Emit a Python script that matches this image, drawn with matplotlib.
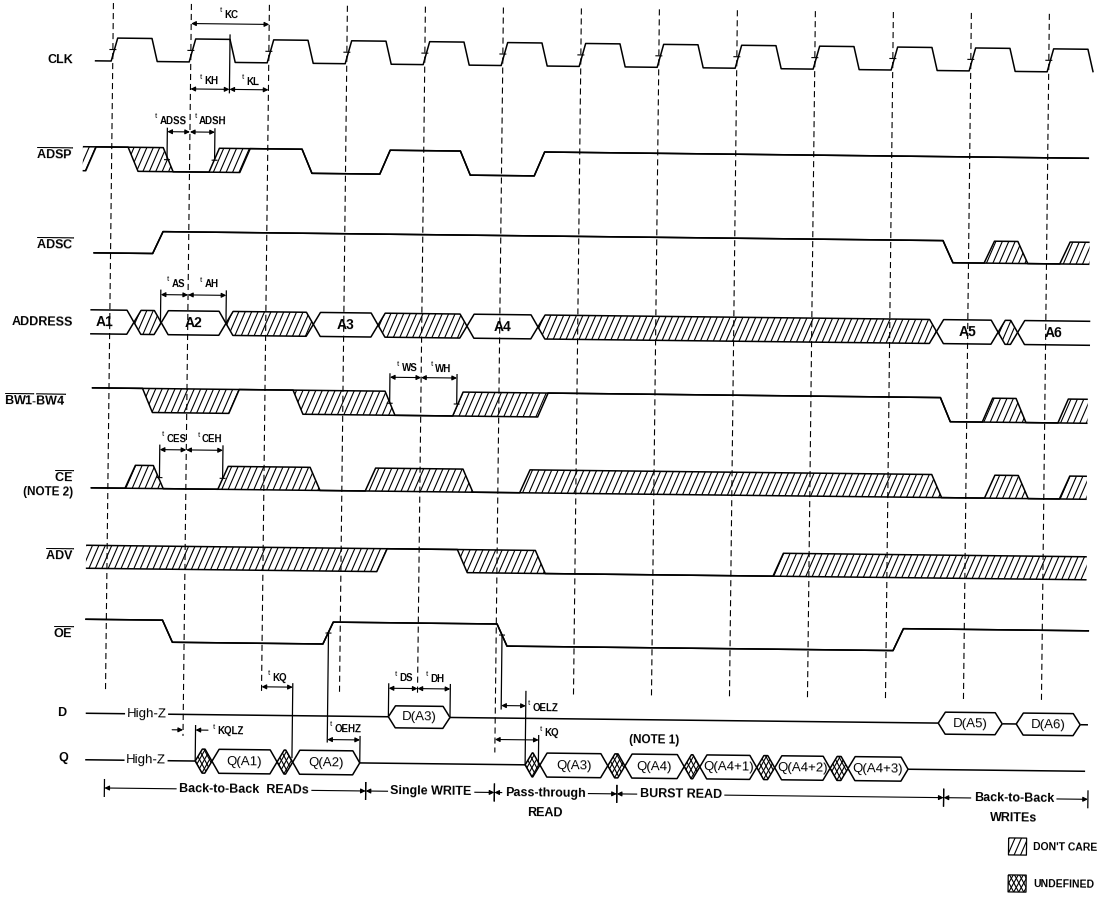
import numpy as np
import matplotlib.pyplot as plt
from matplotlib.patches import Polygon
from matplotlib.transforms import Affine2D

plt.rcParams['font.family'] = ['Liberation Sans', 'DejaVu Sans']
plt.rcParams['mathtext.fontset'] = 'custom'
plt.rcParams['mathtext.rm'] = 'Liberation Sans'
plt.rcParams['mathtext.bf'] = 'Liberation Sans:bold'

# ---------------- data (times in clock cycles, 0 = first rising edge) ----------------
clock_edges = list(range(13))
clk_start, clk_end = -0.23, 12.57

# single-line signals: (time, state)  H high, L low, X don't care, None = end
adsp = [(-0.37, 'X'), (-0.33, 'H'), (0.21, 'X'), (0.66, 'L'), (1.25, 'X'), (1.645, 'H'),
        (2.44, 'L'), (3.44, 'H'), (4.47, 'L'), (5.42, 'H'), (12.53, None)]
adsc = [(-0.22, 'L'), (0.54, 'H'), (10.67, 'L'), (11.2, 'X'), (11.63, 'L'), (12.17, 'X'),
        (12.55, None)]
bw = [(-0.22, 'H'), (0.43, 'X'), (1.54, 'H'), (2.36, 'X'), (3.54, 'L'), (4.41, 'X'), (5.5, 'H'),
      (10.66, 'L'), (11.2, 'X'), (11.63, 'L'), (12.17, 'X'), (12.55, None)]
ce = [(-0.22, 'L'), (0.22, 'X'), (0.58, 'L'), (1.41, 'X'), (2.59, 'L'), (3.3, 'X'), (4.55, 'L'),
      (5.28, 'X'), (10.56, 'L'), (11.24, 'X'), (11.67, 'L'), (12.2, 'X'), (12.55, None)]
adv = [(-0.27, 'X'), (3.46, 'H'), (4.49, 'X'), (5.49, 'L'), (8.54, 'X'), (12.56, None)]
oe = [(-0.27, 'H'), (0.72, 'L'), (2.78, 'H'), (5.01, 'L'), (10.09, 'H'), (12.6, None)]

# buses: (time, state)  label = valid data, X don't care, U undefined, Z high-Z
address = [(-0.25, 'A1'), (0.31, 'X'), (0.66, 'A2'), (1.49, 'X'), (2.61, 'A3'), (3.44, 'X'),
           (4.58, 'A4'), (5.49, 'X'), (10.6, 'A5'), (11.39, 'X'), (11.64, 'A6'), (12.57, None)]
d_bus = [(-0.25, 'Z'), (3.63, 'D(A3)'), (4.42, 'Z'), (10.68, 'D(A5)'), (11.5, 'Z'),
         (11.68, 'D(A6)'), (12.5, 'Z'), (12.6, None)]
q_bus = [(-0.25, 'Z'), (1.16, 'U'), (1.375, 'Q(A1)'), (2.21, 'U'), (2.41, 'Q(A2)'), (3.27, 'Z'),
         (5.39, 'U'), (5.58, 'Q(A3)'), (6.45, 'U'), (6.67, 'Q(A4)'), (7.43, 'U'),
         (7.63, 'Q(A4+1)'), (8.36, 'U'), (8.59, 'Q(A4+2)'), (9.3, 'U'), (9.53, 'Q(A4+3)'),
         (10.3, 'Z'), (12.57, None)]

# timing parameters: (from, to, row y, name, label t, label y)
timings = [
    (1.0, 2.0, 22.6, 'KC', 1.37, 12.5),
    (1.0, 1.5, 88, 'KH', 1.12, 79),
    (1.5, 2.0, 88, 'KL', 1.66, 79),
    (0.71, 1.0, 131, 'ADSS', 0.55, 119),
    (1.0, 1.32, 131, 'ADSH', 1.06, 119),
    (0.65, 1.0, 294, 'AS', 0.73, 282),
    (1.0, 1.49, 294, 'AH', 1.15, 282),
    (3.6, 4.0, 374, 'WS', 3.69, 364),
    (4.0, 4.46, 374, 'WH', 4.12, 364),
    (0.66, 1.0, 449, 'CES', 0.69, 437),
    (1.0, 1.47, 449, 'CEH', 1.14, 437),
    (2.0, 2.4, 685, 'KQ', 2.08, 675),
    (2.85, 3.27, 737, 'OEHZ', 2.88, 725),
    (3.63, 4.0, 685, 'DS', 3.71, 674),
    (4.0, 4.42, 685, 'DH', 4.1, 674),
    (5.075, 5.39, 701, 'OELZ', 5.42, 702),
    (5.0, 5.56, 735, 'KQ', 5.58, 727),
]
# solid reference lines: (t, y top, y bottom)
refs = [(1.5, 33, 92), (0.71, 127, 159), (1.32, 127, 159), (0.65, 289, 322), (1.49, 289, 322),
        (3.6, 370, 400), (4.46, 370, 400), (0.66, 444, 477), (1.47, 444, 477),
        (2.4, 681, 756), (1.16, 724, 760), (2.85, 630, 740), (3.27, 733, 760),
        (3.63, 680, 713), (4.42, 680, 713), (5.075, 630, 705), (5.39, 686, 760),
        (5.56, 730, 760)]

# bus cycle sections: (from, to, label, label t)
sections = [(0.0, 3.35, 'Back-to-Back  READs', 1.79), (3.35, 5.0, 'Single WRITE', 4.19),
            (5.0, 6.57, 'Pass-through\nREAD', 5.65), (6.57, 10.76, 'BURST READ', 7.39),
            (10.76, 12.61, 'Back-to-Back\nWRITEs', 11.66)]

# signal names: (right edge t, y, text)
names = [(-0.51, 60.6, 'CLK'), (-0.496, 155.3, r'$\overline{\mathbf{ADSP}}$'),
         (-0.482, 245.3, r'$\overline{\mathbf{ADSC}}$'), (-0.47, 323.2, 'ADDRESS'),
         (-0.55, 401.3, r'$\overline{\mathbf{BW1}}\mathbf{\text{-}}\overline{\mathbf{BW4}}$'),
         (-0.446, 478.3, r'$\overline{\mathbf{CE}}$'), (-0.44, 492.5, '(NOTE 2)'),
         (-0.437, 556.3, r'$\overline{\mathbf{ADV}}$'), (-0.425, 634.3, r'$\overline{\mathbf{OE}}$'),
         (-0.5, 713.5, 'D'), (-0.47, 758.5, 'Q')]

# ---------------- layout ----------------
PX = 78.0      # pixels per clock cycle
T0 = 113.0     # pixel of first edge
TILT = 0.66    # scan rotation, degrees
RAMP = 0.13
HEX = 0.09
LW = 1.1

fig = plt.figure(figsize=(11.04, 8.97), dpi=100)
ax = fig.add_axes([0, 0, 1, 1])
ax.set_xlim(-T0 / PX, (1104 - T0) / PX)
ax.set_ylim(897, 0)
ax.axis('off')
tr = ax.transData + Affine2D().rotate_deg_around(110, 857, -TILT)


def line(ts, ys, lw=LW, **kw):
    ax.plot(ts, ys, color='k', lw=lw, transform=tr, solid_capstyle='butt', **kw)


def text(t, y, s, **kw):
    kw.setdefault('ha', 'center')
    kw.setdefault('va', 'center')
    ax.text(t, y, s, transform=tr, rotation=-TILT, rotation_mode='anchor', **kw)


def hatch(pts, kind='/'):
    pts = np.asarray(pts)
    patch = Polygon(pts, closed=True, fill=False, lw=0, transform=tr)
    ax.add_patch(patch)
    t0, t1 = pts[:, 0].min(), pts[:, 0].max()
    y0, y1 = pts[:, 1].min(), pts[:, 1].max()
    if kind == '/':
        run, step, dirs = (y1 - y0) * 0.42 / PX, 6.4 / PX, [1]
    else:
        run, step, dirs = (y1 - y0) * 0.55 / PX, 5.0 / PX, [1, -1]
    for d in dirs:
        for s in np.arange(t0 - run - step, t1 + run + step, step):
            ln, = ax.plot([s, s + d * run], [y1, y0], color='k', lw=0.8, transform=tr)
            ln.set_clip_path(patch)


def signal(events, hi, lo):
    lev = {'H': (hi, hi), 'L': (lo, lo), 'X': (hi, lo)}
    t0, prev = events[0]
    up, dn = [(t0, lev[prev][0])], [(t0, lev[prev][1])]
    for t, s in events[1:]:
        if s is None:
            up.append((t, lev[prev][0]))
            dn.append((t, lev[prev][1]))
            break
        up += [(t, lev[prev][0]), (t + RAMP, lev[s][0])]
        dn += [(t, lev[prev][1]), (t + RAMP, lev[s][1])]
        prev = s
    up, dn = np.array(up), np.array(dn)
    hatch(np.vstack([up, dn[::-1]]))
    line(up[:, 0], up[:, 1])
    line(dn[:, 0], dn[:, 1])


def bus(events, yc, half, size=8.5, weight='bold'):
    top, bot = yc - half, yc + half
    for i, (ta, s) in enumerate(events[:-1]):
        tb, nxt = events[i + 1]
        if s == 'Z':
            line([ta, tb], [yc, yc])
            continue
        first, last = i == 0, nxt is None
        tch = ([] if first else [(ta, yc)]) + [(ta + (0 if first else HEX), top),
                                               (tb - (0 if last else HEX), top)] + ([] if last else [(tb, yc)])
        bch = ([] if first else [(ta, yc)]) + [(ta + (0 if first else HEX), bot),
                                               (tb - (0 if last else HEX), bot)] + ([] if last else [(tb, yc)])
        tch, bch = np.array(tch), np.array(bch)
        if s == 'X':
            hatch(np.vstack([tch, bch[::-1]]), '/')
        elif s == 'U':
            hatch(np.vstack([tch, bch[::-1]]), 'x')
        else:
            mid = (ta + tb) / 2 - (HEX if first else 0)
            text(mid, yc + 0.5, s, fontsize=size, fontweight=weight)
        line(tch[:, 0], tch[:, 1])
        line(bch[:, 0], bch[:, 1])


def arrow(t0, t1, y, style='<|-|>'):
    ax.annotate('', xy=(t1, y), xytext=(t0, y), xycoords=tr, textcoords=tr,
                arrowprops=dict(arrowstyle=style, color='k', lw=0.8, mutation_scale=7,
                                shrinkA=0, shrinkB=0))


def tlabel(t, y, name):
    text(t, y - 3, 't', fontsize=5.5, ha='left')
    text(t + 4.5 / PX, y + 1, name, fontsize=7, ha='left', fontweight='bold')


# dashed clock reference lines
for e in clock_edges:
    y_end = {1: 735, 5: 748}.get(e, 690)
    ax.plot([e, e], [3, y_end], color='k', lw=0.8, transform=tr,
            dashes=(5.5, 3.5))

# clock
C_HI, C_LO = 38, 61
ct, cy = [clk_start], [C_LO]
for e in clock_edges:
    ct += [e - 0.02, e + 0.06, e + 0.5, e + 0.57]
    cy += [C_LO, C_HI, C_HI, C_LO]
    line([e - 3.5 / PX, e + 3.5 / PX], [(C_HI + C_LO) / 2] * 2, lw=0.8)
ct.append(clk_end)
cy.append(C_LO)
line(ct, cy)

signal(adsp, 147, 171)
signal(adsc, 231, 253)
bus(address, 322, 12, size=10)
signal(bw, 388, 412)
signal(ce, 465, 488)
signal(adv, 545.5, 568.5)
signal(oe, 619.5, 641.5)
bus(d_bus, 713.5, 11, size=9.5, weight='normal')
bus(q_bus, 760, 12, size=9.5, weight='normal')
for row in (713.5, 760):
    text(0.53, row, 'High-Z', fontsize=9.5,
         bbox=dict(boxstyle='square,pad=0.12', fc='white', ec='none'))

for t, y in [(2.85, 630.5), (5.075, 630.5), (0.71, 159), (1.32, 159), (3.6, 400), (4.46, 400),
             (0.66, 477), (1.47, 477)]:
    line([t - 3 / PX, t + 3 / PX], [y, y], lw=0.8)

# timing annotations
for t0, t1, y, name, lt, ly in timings:
    arrow(t0, t1, y)
    tlabel(lt, ly, name)
for t, y0, y1 in refs:
    line([t, t], [y0, y1], lw=0.9)
arrow(0.86, 1.0, 729, '-|>')
arrow(1.32, 1.16, 729, '-|>')
tlabel(1.38, 729, 'KQLZ')
text(7.04, 734, '(NOTE 1)', fontsize=8.5, fontweight='bold')

# cycle sections
SEC_Y = 788
for t0, t1, label, lt in sections:
    arrow(t0, t1, SEC_Y)
    for t in (t0, t1):
        line([t, t], [SEC_Y - 9, SEC_Y + 9], lw=0.9)
    parts = label.split('\n')
    text(lt, SEC_Y, parts[0], fontsize=9, fontweight='bold',
         bbox=dict(boxstyle='square,pad=0.2', fc='white', ec='none'))
    if len(parts) > 1:
        text(lt, SEC_Y + 20, parts[1], fontsize=9, fontweight='bold')

for t, y, s in names:
    size = 8.5 if s.startswith('(') else 9
    text(t, y, s, fontsize=size, fontweight='bold', ha='right')

# legend
for y0, kind, label in [(827.5, '/', "DON'T CARE"), (864.5, 'x', 'UNDEFINED')]:
    a, b = 11.6, 11.83
    box = [(a, y0), (b, y0), (b, y0 + 17), (a, y0 + 17)]
    hatch(box, kind)
    line([a, b, b, a, a], [y0, y0, y0 + 17, y0 + 17, y0], lw=0.9)
    text(11.92, y0 + 9, label, fontsize=7.5, fontweight='bold', ha='left')

fig.savefig('out.png', dpi=100)
